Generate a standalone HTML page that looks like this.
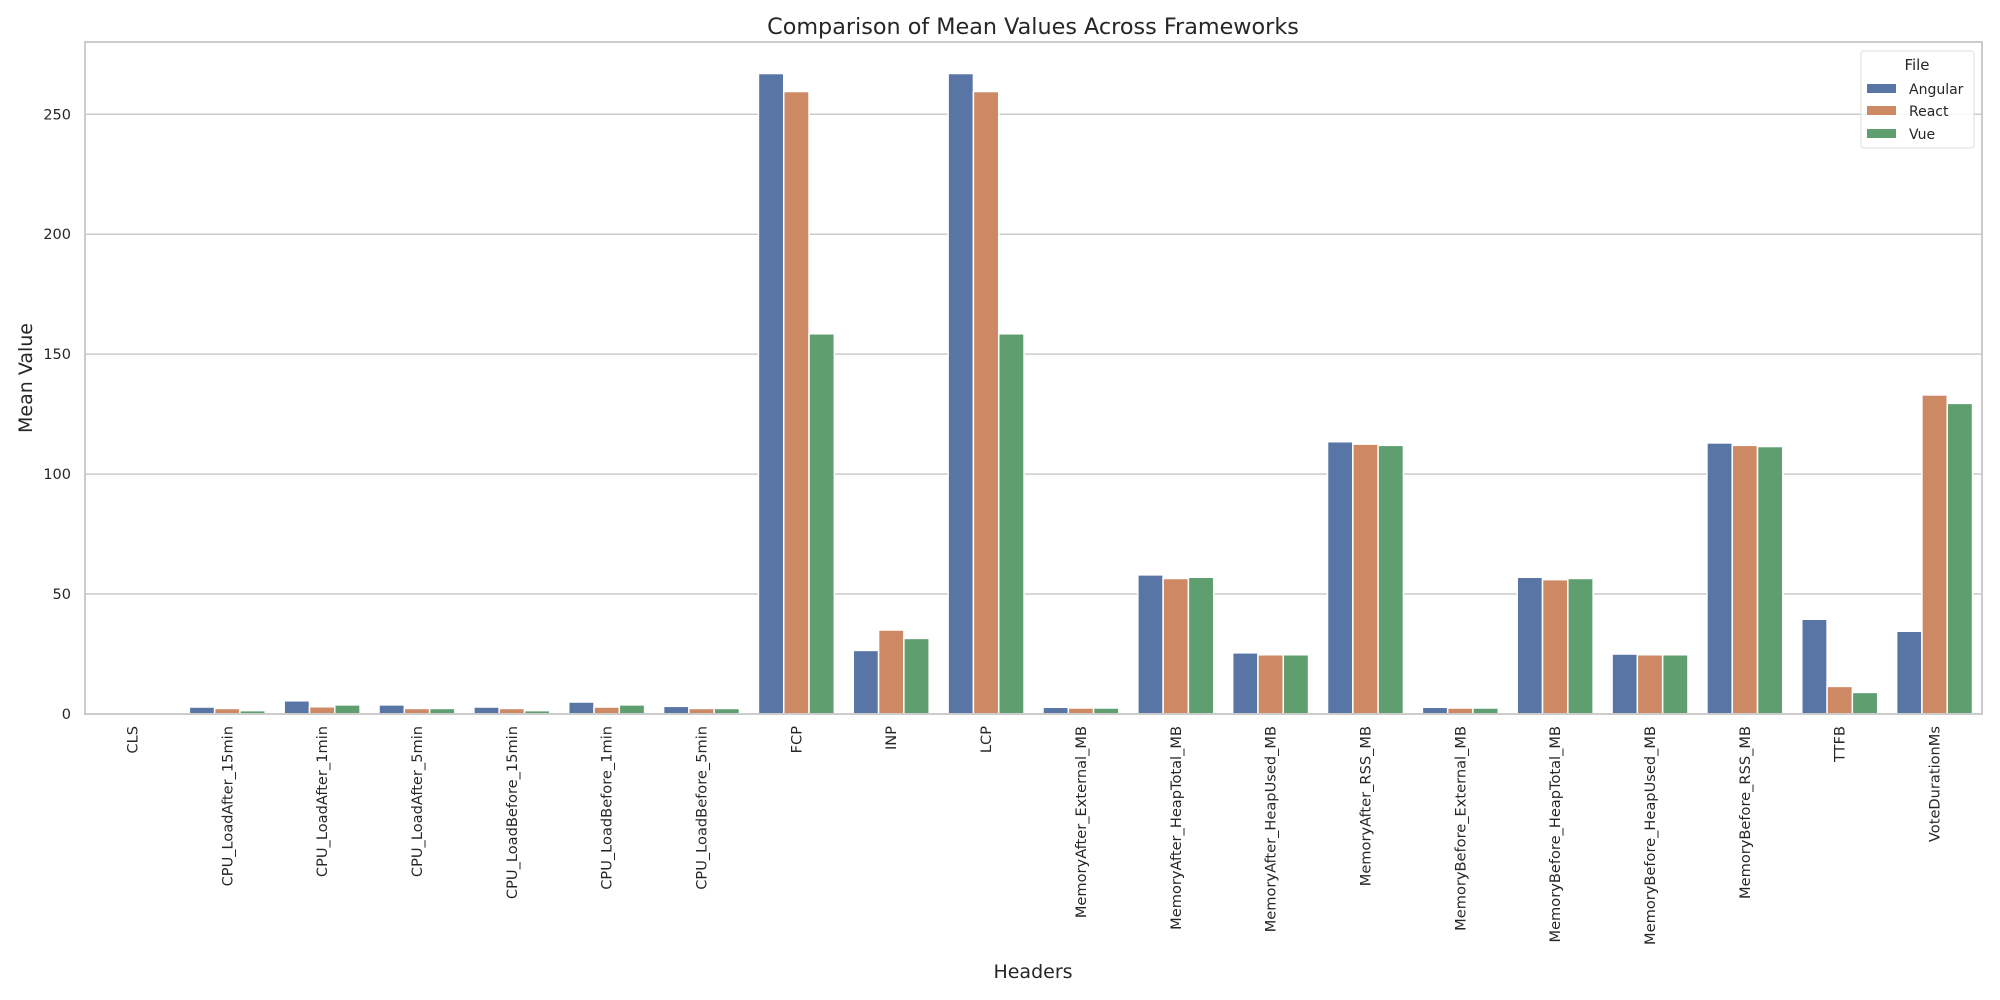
<!DOCTYPE html>
<html><head><meta charset="utf-8"><style>
body{margin:0;background:#fff;}
svg{display:block;font-family:"DejaVu Sans","Liberation Sans",sans-serif;}
</style></head><body>
<svg id="chart" width="2000" height="1000" viewBox="0 0 2000 1000">
<rect x="0" y="0" width="2000" height="1000" fill="#fff"/>
<text x="1033" y="34" text-anchor="middle" font-size="22.3" fill="#262626">Comparison of Mean Values Across Frameworks</text>
<g id="grid"></g>
<g id="bars"></g>
<g id="xlabels"></g>
<g id="ylabels"></g>
<rect x="85" y="42" width="1897" height="672" fill="none" stroke="#cccccc" stroke-width="2"/>
<text x="1033" y="978" text-anchor="middle" font-size="19" fill="#262626">Headers</text>
<text transform="translate(32,378) rotate(-90)" text-anchor="middle" font-size="19" fill="#262626">Mean Value</text>
<g>
<rect x="1861" y="51" width="113" height="97" rx="3" fill="#fff" fill-opacity="0.85" stroke="#dddddd"/>
<text x="1917" y="70" text-anchor="middle" font-size="15" fill="#262626">File</text>
<rect x="1867" y="84" width="29" height="9" fill="#5875a6"/>
<text x="1909" y="94" font-size="14" fill="#262626">Angular</text>
<rect x="1867" y="106" width="29" height="9" fill="#cc8963"/>
<text x="1909" y="116" font-size="14" fill="#262626">React</text>
<rect x="1867" y="129" width="29" height="9" fill="#5f9e6e"/>
<text x="1909" y="139" font-size="14" fill="#262626">Vue</text>
</g>
</svg>
<script>
const categories = ["CLS","CPU_LoadAfter_15min","CPU_LoadAfter_1min","CPU_LoadAfter_5min","CPU_LoadBefore_15min","CPU_LoadBefore_1min","CPU_LoadBefore_5min","FCP","INP","LCP","MemoryAfter_External_MB","MemoryAfter_HeapTotal_MB","MemoryAfter_HeapUsed_MB","MemoryAfter_RSS_MB","MemoryBefore_External_MB","MemoryBefore_HeapTotal_MB","MemoryBefore_HeapUsed_MB","MemoryBefore_RSS_MB","TTFB","VoteDurationMs"];
const angular = [0.1,2.9,5.5,3.8,2.9,5.0,3.2,267,26.5,267,2.8,58,25.5,113.5,2.8,57,25,113,39.5,34.5];
const react = [0.1,2.3,3.0,2.3,2.3,2.9,2.3,259.5,35,259.5,2.5,56.5,24.7,112.5,2.5,56,24.7,112,11.5,133];
const vue = [0.1,1.4,3.8,2.3,1.4,3.8,2.3,158.5,31.5,158.5,2.5,57,24.7,112,2.5,56.5,24.7,111.5,9,129.5];
const seriesNames = ["angular","react","vue"];
const yTicks = [0,50,100,150,200,250];

const NS="http://www.w3.org/2000/svg";
const X0=85, X1=1982, Y0=714, YTOP=42;
const pxPerUnit=(714-114.3)/250;
function yScale(v){return Y0 - v*pxPerUnit;}
const band=(X1-X0)/categories.length;
function xCenter(i){return X0 + band*(i+0.5);}
const barW=band*0.8/3;
const colors=["#5875a6","#cc8963","#5f9e6e"];
const series=[angular,react,vue];

const grid=document.getElementById('grid');
const yl=document.getElementById('ylabels');
yTicks.forEach(t=>{
  const y=yScale(t);
  const l=document.createElementNS(NS,'line');
  l.setAttribute('x1',X0);l.setAttribute('x2',X1);l.setAttribute('y1',y);l.setAttribute('y2',y);
  l.setAttribute('stroke','#cccccc');l.setAttribute('stroke-width','1.5');
  
  
  grid.appendChild(l);
  const tx=document.createElementNS(NS,'text');
  tx.setAttribute('x',X0-14);tx.setAttribute('y',y+5);tx.setAttribute('text-anchor','end');
  tx.setAttribute('font-size','14.5');tx.setAttribute('fill','#262626');
  tx.textContent=t;
  
  
  yl.appendChild(tx);
});

const bars=document.getElementById('bars');
const xl=document.getElementById('xlabels');
categories.forEach((c,i)=>{
  const xc=xCenter(i);
  series.forEach((s,k)=>{
    const v=s[i];
    const x=xc-1.5*barW+k*barW;
    const r=document.createElementNS(NS,'rect');
    r.setAttribute('x',x);r.setAttribute('width',barW);
    r.setAttribute('y',yScale(v));r.setAttribute('height',Math.max(0,Y0-yScale(v)));
    r.setAttribute('fill',colors[k]);r.setAttribute('stroke','#fff');r.setAttribute('stroke-width','1.5');
    
    
    bars.appendChild(r);
  });
  const tx=document.createElementNS(NS,'text');
  tx.setAttribute('transform','translate('+(xc+5)+',726) rotate(-90)');
  tx.setAttribute('text-anchor','end');tx.setAttribute('font-size','14.6');tx.setAttribute('fill','#262626');
  tx.textContent=c;
  
  
  xl.appendChild(tx);
});
</script>
</body></html>
